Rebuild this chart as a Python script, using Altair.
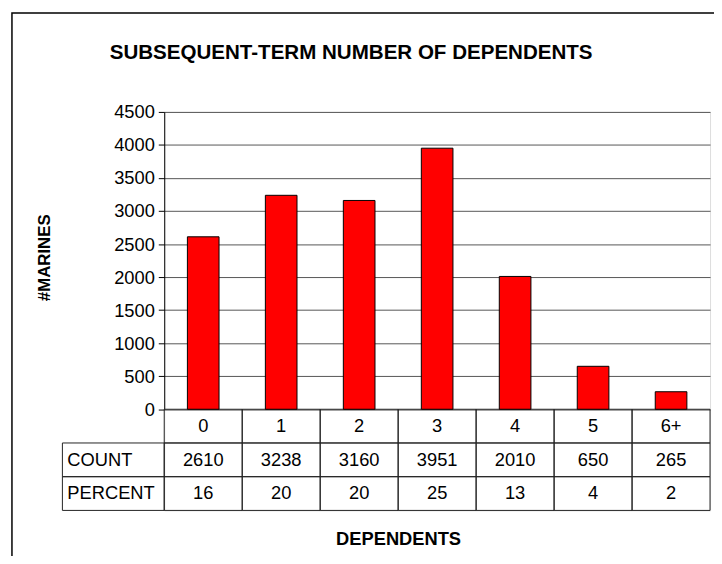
import altair as alt
import pandas as pd

# ---- data ----
categories = ["0", "1", "2", "3", "4", "5", "6+"]
counts = [2610, 3238, 3160, 3951, 2010, 650, 265]
percents = [16, 20, 20, 25, 13, 4, 2]
y_ticks = [0, 500, 1000, 1500, 2000, 2500, 3000, 3500, 4000, 4500]
row_names = ["cat", "COUNT", "PERCENT"]
row_labels = ["COUNT", "PERCENT"]
title_text = "SUBSEQUENT-TERM NUMBER OF DEPENDENTS"
x_title = "DEPENDENTS"
y_title = "#MARINES"

# ---- layout constants ----
FONT = "Liberation Sans"
W, H = 552, 403          # plot area (bars + data table)
BAR_H = 300.7            # pixel height of the bar region
LABEL_LEFT = -1.806      # left edge of row-label column, in category units
FS = 18.5

bars_df = pd.DataFrame({"idx": list(range(len(categories))), "cat": categories, "count": counts})

cells = []
for i, c in enumerate(categories):
    for r, t in zip(row_names, [c, str(counts[i]), str(percents[i])]):
        cells.append({"idx": i, "x0": i - 0.5, "x1": i + 0.5, "row": r, "text": t})
for r in row_labels:
    cells.append({"idx": LABEL_LEFT, "x0": LABEL_LEFT, "x1": -0.5, "row": r, "text": ""})
cells_df = pd.DataFrame(cells)
labels_df = pd.DataFrame({"x0": [LABEL_LEFT] * len(row_labels), "row": row_labels, "text": row_labels})

xscale = alt.Scale(domain=[-0.5, len(categories) - 0.5], nice=False, zero=False, padding=0)
ybar = alt.Scale(domain=[0, 4500], range=[BAR_H, 0], nice=False, padding=0)
yrow = alt.Scale(domain=row_names, range=[BAR_H, H], paddingInner=0, paddingOuter=0)

bars = alt.Chart(bars_df).mark_bar(
    orient="vertical", size=32, color="#FF0000", stroke="black", strokeWidth=1
).encode(
    x=alt.X("idx:Q", scale=xscale, axis=None),
    y=alt.Y("count:Q", scale=ybar,
            axis=alt.Axis(title=y_title, values=y_ticks, format="d", grid=True,
                          gridColor="#555555", gridWidth=1, domainColor="black",
                          tickColor="black", tickSize=6,
                          labelFont=FONT, labelFontSize=FS, labelColor="black", labelPadding=4,
                          titleFont=FONT, titleFontSize=17, titleFontWeight="bold",
                          titleColor="black", titleAngle=270, titleX=-121, titleY=147,
                          titleBaseline="middle", titleAlign="center")),
)

cell_rects = alt.Chart(cells_df).mark_rect(
    fillOpacity=0, stroke="#222222", strokeWidth=1
).encode(
    x=alt.X("x0:Q", scale=xscale, axis=None),
    x2="x1:Q",
    y=alt.Y("row:N", scale=yrow, axis=None),
)

cell_text = alt.Chart(cells_df).mark_text(
    font=FONT, fontSize=FS, color="black", baseline="middle", align="center"
).encode(
    x=alt.X("idx:Q", scale=xscale, axis=None),
    y=alt.Y("row:N", scale=yrow, axis=None),
    text="text:N",
)

row_text = alt.Chart(labels_df).mark_text(
    font=FONT, fontSize=FS, color="black", baseline="middle", align="left", dx=5
).encode(
    x=alt.X("x0:Q", scale=xscale, axis=None),
    y=alt.Y("row:N", scale=yrow, axis=None),
    text="text:N",
)

one = pd.DataFrame({"a": [0]})
frame = alt.Chart(one).mark_rect(fillOpacity=0, stroke="black", strokeWidth=1.5).encode(
    x=alt.value(-154), x2=alt.value(562), y=alt.value(-100), y2=alt.value(470)
)
title = alt.Chart(one).mark_text(
    text=title_text, font=FONT, fontSize=20.8, fontWeight="bold", color="black",
    align="center", baseline="alphabetic"
).encode(x=alt.value(189), y=alt.value(-54))
xtitle = alt.Chart(one).mark_text(
    text=x_title, font=FONT, fontSize=18.5, fontWeight="bold", color="black",
    align="center", baseline="middle"
).encode(x=alt.value(237), y=alt.value(H + 29))

chart = alt.layer(frame, cell_rects, bars, cell_text, row_text, title, xtitle).resolve_scale(
    y="independent"
).properties(
    width=W, height=H,
    autosize=alt.AutoSizeParams(type="none"),
    padding={"left": 158, "top": 102, "right": 4, "bottom": 43},
).configure_view(stroke="#808080", strokeWidth=1.5).configure(background="white")

chart.save("out.html", embed_options={"renderer": "svg", "actions": False})
